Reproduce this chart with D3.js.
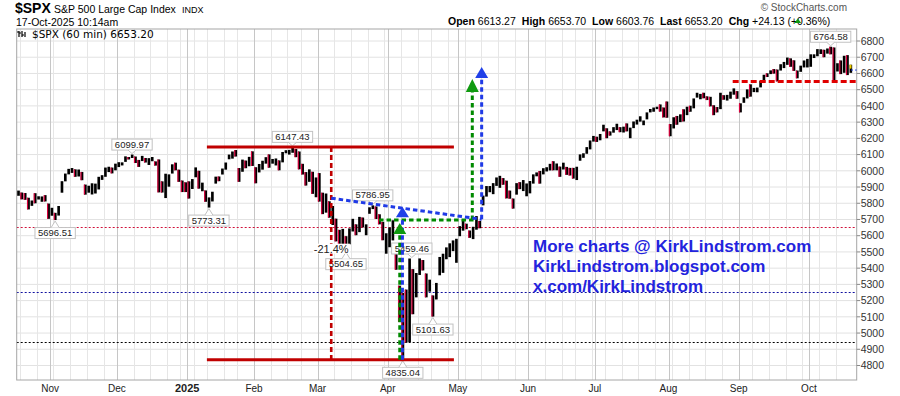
<!DOCTYPE html>
<html><head><meta charset="utf-8">
<script src="https://cdn.jsdelivr.net/npm/d3@7"></script>
<style>body{margin:0;background:#fff;}svg{display:block;}</style>
</head><body><svg id="c" width="900" height="396"></svg>
<script>
// ---------- DATA ----------
const holidays = ["2024-11-28","2024-12-25","2025-01-01","2025-01-09","2025-01-20","2025-02-17","2025-04-18","2025-05-26","2025-06-19","2025-07-04","2025-09-01"];
const startDate = "2024-10-18", endDate = "2025-10-17";
const highs = [5878,5866,5863,5834,5817,5862,5843,5842,5850,5798,
 5772,5741,5783,5936,5983,6012,6017,6009,6008,5993,5915,5908,5923,5921,5963,5973,6020,6025,6020,6044,
 6053,6052,6089,6085,6099.97,6088,6067,6092,6079,6078,6085,6058,6070,5935,5982,5978,6040,6050,6007,5940,5929,
 5935,5949,6021,6000,5927,5879,5836,5871,5964,5965,6014,6051,6100,6119,6128,6017,6069,6063,6086,6120,
 6022,6042,6062,6084,6101,6073,6076,6064,6116,6127,6129,6147.43,6134,6119,6043,5992,6009,5994,5959,
 5986,5865,5860,5812,5783,5705,5636,5642,5597,5645,5704,5670,5716,5712,5670,5775,5786.95,5780,5732,5685,5615,
 5651,5695,5500,5292,5247,5268,5459.46,5394,5370,5460,5450,5367,5329,5232,5309,5469,5489,5528,5553,5571,5581,
 5659,5700,5674,5632,5655,5721,5691,5847,5906,5906,5924,5959,5969,5955,5939,5878,5829,5924,5930,5943,5922,
 5937,5978,5990,5999,6016,6022,6043,6059,6045,6026,6050,6024,6018,6018,6025,6101,6108,6146,6187,6215,
 6210,6227,6284,6262,6243,6269,6290,6269,6272,6292,6266,6304,6315,6336,6310,6360,6381,6390,6395,6409,6390,6427,
 6288,6330,6338,6348,6379,6395,6401,6446,6481,6474,6481,6459,6456,6404,6393,6481,6466,6468,6488,6508,6491,
 6416,6453,6502,6533,6511,6513,6555,6592,6601,6619,6627,6624,6657,6671,6698,6693,6681,6618,6648,6680,6690,
 6718,6718,6750,6749,6746,6754,6764.58,6760,6663,6680,6709,6713,6653.70];
const lows = [5846,5824,5821,5762,5784,5800,5823,5809,5811,5704,
 5723,5696.51,5724,5865,5935,5978,5987,5963,5965,5942,5853,5865,5854,5860,5885,5944,5963,5992,5984,6003,
 6023,6033,6055,6070,6079,6048,6024,6060,6051,6036,6059,6032,5867,5866,5832,5902,5983,6003,5932,5869,5869,
 5829,5888,5960,5890,5874,5809,5773.31,5811,5921,5936,5977,6007,6071,6075,6088,5932,5994,6016,6028,6030,
 5923,5990,6007,6044,6019,6044,6033,6003,6052,6108,6100,6111,6084,6009,5977,5909,5932,5858,5837,
 5810,5733,5742,5711,5666,5565,5529,5547,5504.65,5547,5626,5603,5622,5651,5603,5735,5764,5703,5670,5572,5489,
 5529,5571,5390,5069,4835.04,4941,4944,5116,5220,5358,5386,5220,5255,5101.63,5207,5356,5371,5455,5468,5505,5433,
 5597,5631,5640,5587,5579,5637,5646,5787,5841,5868,5856,5907,5895,5914,5830,5828,5767,5853,5887,5875,5843,
 5861,5921,5966,5921,5978,5996,6002,6003,6003,5963,6008,5975,5971,5952,5943,6062,6080,6105,6132,6180,
 6178,6188,6243,6201,6217,6235,6251,6238,6236,6243,6201,6263,6285,6303,6281,6317,6360,6364,6380,6365,6329,6327,
 6213,6261,6284,6300,6304,6343,6364,6385,6451,6441,6447,6436,6397,6343,6360,6380,6438,6433,6444,6469,6444,
 6360,6419,6446,6457,6485,6484,6514,6544,6578,6596,6599,6551,6618,6633,6653,6641,6616,6570,6610,6637,6637,
 6641,6695,6706,6720,6700,6722,6718,6551,6612,6596,6604,6590,6603.76];
const closes = [5864,5853,5851,5797,5809,5808,5823,5832,5813,5705,
 5728,5712,5782,5929,5973,5995,6001,5984,5985,5949,5870,5893,5917,5917,5948,5969,5987,6021,5998,6032,
 6047,6049,6086,6075,6090,6052,6034,6084,6051,6051,6074,6050,5872,5867,5930,5974,6040,6037,5971,5907,5882,
 5869,5942,5975,5909,5918,5827,5836,5843,5950,5937,5997,6049,6086,6119,6101,6012,6068,6039,6071,6040,
 5994,6037,6061,6083,6026,6066,6068,6052,6115,6115,6129,6144,6117,6013,5983,5955,5956,5861,5955,
 5850,5778,5842,5739,5770,5614,5572,5599,5521,5639,5675,5615,5675,5662,5668,5768,5777,5712,5693,5581,5612,
 5633,5671,5397,5074,5062,4982,5457,5268,5363,5406,5397,5276,5283,5158,5287,5376,5485,5525,5529,5561,5569,
 5604,5687,5650,5607,5631,5664,5660,5844,5886,5892,5917,5958,5964,5940,5845,5842,5802,5922,5889,5912,5912,
 5936,5970,5971,5939,6000,6006,6038,6022,6045,5977,6033,5982,5981,5967,6025,6092,6092,6141,6173,6205,
 6198,6227,6279,6230,6226,6263,6280,6260,6269,6244,6264,6297,6297,6306,6309,6359,6363,6389,6390,6371,6362,6339,
 6238,6330,6299,6345,6340,6389,6374,6446,6466,6469,6450,6449,6412,6396,6370,6467,6440,6466,6481,6502,6460,
 6416,6448,6502,6482,6495,6512,6532,6587,6584,6615,6606,6600,6632,6664,6694,6656,6638,6605,6644,6661,6688,
 6711,6715,6716,6740,6714,6754,6735,6553,6654,6644,6671,6629,6653.20];
const yTicks = [4800,4900,5000,5100,5200,5300,5400,5500,5600,5700,5800,5900,6000,6100,6200,6300,6400,6500,6600,6700,6800];
const monthLabels = ["Nov","Dec","2025","Feb","Mar","Apr","May","Jun","Jul","Aug","Sep","Oct"];
// labelled extremes: [day index, value, text, side]
const pointLabels = [[34,6099.97,"6099.97","up"],[11,5696.51,"5696.51","down"],[57,5773.31,"5773.31","down"],
 [82,6147.43,"6147.43","up"],[106,5786.95,"5786.95","up"],[98,5504.65,"5504.65","down"],
 [117.7,5459.46,"5459.46","up"],[124,5101.63,"5101.63","down"],[115,4835.04,"4835.04","down"],[243,6764.58,"6764.58","up"]];
// horizontal dotted reference levels
const dottedLevels = [[5655,"#d0103a"],[5251,"#1010a0"],[4945,"#000000"]];
// annotation geometry in (day index, value)
const redSolid = [[[56.9,6147.43],[130.8,6147.43]],[[56.9,4835.04],[130.8,4835.04]]];
const redDashV = [[94.1,6147.43],[94.1,4835.04]];
const pctLabel = [94.1,5520,"-21.4%"];
const blueLines = [[[94.1,5831],[139.1,5701]],[[115.4,4835],[115.4,5713]],[[139.1,5701],[139.1,6572]]];
const blueArrows = [[115.4,5713,5779],[139.1,6572,6640]];
const greenLines = [[[108.4,5697],[137.1,5697]],[[114.6,4835],[114.6,5611]],[[136.3,5697],[136.3,6486]]];
const greenArrows = [[114.6,5611,5678],[136.3,6486,6566]];
const redDashH = [[214.2,6551],[251.3,6551]];
const lastMarker = 6621;
const promo = ["More charts @ KirkLindstrom.com","KirkLindstrom.blogspot.com","x.com/KirkLindstrom"];

// ---------- SETUP ----------
const svg = d3.select("#c");
const L=16.7, R=856.7, T=29, B=380;
const x = d3.scaleLinear().domain([0,251.3]).range([L,R]);
const y = d3.scaleLinear().domain([4800,6800]).range([365.5,41]);
const FA = "'Liberation Sans', Arial, sans-serif";

const hol = new Set(holidays);
const dates=[];
for(let d=new Date(startDate+"T12:00:00Z"); d<=new Date(endDate+"T12:00:00Z"); d.setUTCDate(d.getUTCDate()+1)){
  const wd=d.getUTCDay(), s=d.toISOString().slice(0,10);
  if(wd===0||wd===6||hol.has(s)) continue;
  dates.push(new Date(d));
}
const n = Math.min(dates.length, highs.length);

svg.append("rect").attr("width",900).attr("height",396).attr("fill","#fff");

// grid
const g = svg.append("g");
yTicks.forEach(v=>g.append("line").attr("x1",L).attr("x2",R).attr("y1",y(v)).attr("y2",y(v)).attr("stroke","#e2e2e2"));
const weekIdx=[], monthIdx=[];
for(let i=1;i<n;i++){
  if(dates[i].getUTCMonth()!==dates[i-1].getUTCMonth()) monthIdx.push(i);
  else if(dates[i].getUTCDay()<dates[i-1].getUTCDay() || (dates[i]-dates[i-1])>3*864e5) weekIdx.push(i);
}
weekIdx.forEach(i=>g.append("line").attr("x1",Math.round(x(i))+0.5).attr("x2",Math.round(x(i))+0.5).attr("y1",T).attr("y2",B).attr("stroke","#e6e6e6"));
monthIdx.forEach(i=>g.append("line").attr("x1",Math.round(x(i))+0.5).attr("x2",Math.round(x(i))+0.5).attr("y1",T).attr("y2",B).attr("stroke","#c6c6c6"));

// dotted levels
dottedLevels.forEach(([v,c])=>svg.append("line").attr("x1",L).attr("x2",R).attr("y1",Math.round(y(v))+0.5).attr("y2",Math.round(y(v))+0.5)
  .attr("stroke",c).attr("stroke-width",1).attr("stroke-dasharray","2,2"));

// frame
svg.append("rect").attr("x",L).attr("y",T).attr("width",R-L).attr("height",B-T).attr("fill","none").attr("stroke","#a6a6a6");

// x labels
monthIdx.forEach((i,k)=>{
  if(k>=monthLabels.length) return;
  svg.append("text").attr("x",x(i)).attr("y",391.5).attr("text-anchor","middle")
   .attr("font-family",FA).attr("font-size",monthLabels[k]==="2025"?11:10)
   .attr("font-weight",monthLabels[k]==="2025"?"bold":"normal").attr("fill","#222").text(monthLabels[k]);
});
// y ticks
yTicks.forEach(v=>{
  svg.append("line").attr("x1",R).attr("x2",R+3.5).attr("y1",y(v)).attr("y2",y(v)).attr("stroke","#888");
  svg.append("text").attr("x",R+4).attr("y",y(v)).attr("dy","0.36em").attr("font-family",FA).attr("font-size",10.5).attr("fill","#333").text(v);
});

// price bars
const bars = svg.append("g");
for(let i=0;i<n;i++){
  const x0=x(i), st=x(i+1)-x(i);
  const yt=y(highs[i]), yb=y(lows[i]);
  const down = i>0 && closes[i]<closes[i-1];
  bars.append("rect").attr("x",x0+0.5).attr("y",yt).attr("width",st-0.7).attr("height",Math.max(1,yb-yt)).attr("fill","#000");
  if(down){
    bars.append("rect").attr("x",x0+0.2).attr("y",yt).attr("width",1.2).attr("height",Math.max(1,yb-yt)).attr("fill","#d8003c");
  }
}
// current bar highlight
bars.append("rect").attr("x",x(n-1)+0.5).attr("y",y(highs[n-1])).attr("width",2).attr("height",y(6630)-y(highs[n-1])).attr("fill","#f0d000");
svg.append("line").attr("x1",x(n-1)+2).attr("x2",R).attr("y1",y(lastMarker)).attr("y2",y(lastMarker)).attr("stroke","#2040e0").attr("stroke-dasharray","2,2");

// point labels
pointLabels.forEach(([i,v,t,side])=>{
  const px=x(i+0.5), py=y(v), h=11;
  const grp=svg.append("g");
  const tx=grp.append("text").attr("font-family",FA).attr("font-size",9.5).attr("fill","#222").attr("text-anchor","middle").text(t);
  const w=tx.node().getComputedTextLength()+6;
  const by = side==="up" ? py-4.5-h : py+7.5;
  grp.insert("rect","text").attr("x",px-w/2).attr("y",by).attr("width",w).attr("height",h).attr("fill","#fff").attr("stroke","#c2c2c2");
  const edge = side==="up" ? by+h : by;
  const tip = side==="up" ? py-1 : py+1;
  grp.insert("path","text").attr("d",`M${px-4},${edge}L${px},${tip}L${px+4},${edge}`).attr("fill","#fff").attr("stroke","#c2c2c2");
  tx.attr("x",px).attr("y",by+8.6);
});

// annotation lines
const lineGen = d3.line().x(d=>x(d[0])).y(d=>y(d[1]));
redSolid.forEach(s=>svg.append("path").attr("d",lineGen(s)).attr("stroke","#c00000").attr("stroke-width",3).attr("fill","none"));
svg.append("path").attr("d",lineGen(redDashV)).attr("stroke","#c00000").attr("stroke-width",2.6).attr("stroke-dasharray","5,3").attr("fill","none");

// percent label (drawn above the dashed line)
{
  const px=x(pctLabel[0]), py=y(pctLabel[1]);
  const t=svg.append("text").attr("x",px).attr("y",py+4).attr("text-anchor","middle").attr("font-family",FA).attr("font-size",11).attr("fill","#222").text(pctLabel[2]);
  const bb=t.node().getBBox();
  svg.insert("rect",()=>t.node()).attr("x",bb.x-1).attr("y",bb.y+1).attr("width",bb.width+2).attr("height",bb.height-2).attr("fill","#fff");
}

greenLines.forEach(s=>svg.append("path").attr("d",lineGen(s)).attr("stroke","#008a00").attr("stroke-width",3).attr("stroke-dasharray","4.5,3").attr("fill","none"));
blueLines.forEach(s=>svg.append("path").attr("d",lineGen(s)).attr("stroke","#1f3ae6").attr("stroke-width",3).attr("stroke-dasharray","4.5,3").attr("fill","none"));
svg.append("path").attr("d",lineGen(redDashH)).attr("stroke","#e00000").attr("stroke-width",3).attr("stroke-dasharray","6,3").attr("fill","none");
function arrow(a,col){
  const px=x(a[0]), yb=y(a[1]), yt=y(a[2]);
  svg.append("path").attr("d",`M${px-6.5},${yb}L${px},${yt}L${px+6.5},${yb}Z`).attr("fill",col);
}
greenArrows.forEach(a=>arrow(a,"#109a10"));
blueArrows.forEach(a=>arrow(a,"#2040e8"));

// promo text
promo.forEach((t,k)=>svg.append("text").attr("x",533).attr("y",251.7+k*20).attr("font-family",FA).attr("font-weight","bold")
  .attr("font-size",17).attr("fill","#2323dd").text(t));

// header
const hd=svg.append("g").attr("font-family",FA).attr("fill","#000");
hd.append("text").attr("x",15).attr("y",13).attr("font-size",14).attr("font-weight","bold").text("$SPX");
hd.append("text").attr("x",54).attr("y",13).attr("font-size",10.5).text("S&P 500 Large Cap Index");
hd.append("text").attr("x",182).attr("y",13).attr("font-size",9).text("INDX");
hd.append("text").attr("x",16).attr("y",25.5).attr("font-size",10.5).text("17-Oct-2025 10:14am");
hd.append("text").attr("x",847).attr("y",11).attr("text-anchor","end").attr("font-size",10).attr("fill","#555").text("\u00A9 StockCharts.com");
const ohlc=[["Open","6613.27"],["High","6653.70"],["Low","6603.76"],["Last","6653.20"],["Chg","+24.13 (+0.36%)"]];
const ht=hd.append("text").attr("x",448).attr("y",25).attr("font-size",10.5);
ohlc.forEach(([a,b],k)=>{
  ht.append("tspan").attr("font-weight","bold").attr("dx",k?6:0).text(a);
  ht.append("tspan").attr("dx",3).text(b);
});
const htw = ht.node().getComputedTextLength();
hd.append("path").attr("d",`M${448+htw+3},23L${448+htw+6.5},18.5L${448+htw+10},23Z`).attr("fill","#109a10");
// legend
const lg=svg.append("g");
lg.append("path").attr("d","M19,31v6M19,33h2M22,31v6M22,35h2M25,32v5M17,32h2").attr("stroke","#000").attr("stroke-width",1.2).attr("fill","none");
lg.append("text").attr("x",32).attr("y",38.3).attr("font-family","'DejaVu Sans', Verdana, sans-serif").attr("font-size",10.5).attr("fill","#000").text("$SPX (60 min) 6653.20");
</script></body></html>
